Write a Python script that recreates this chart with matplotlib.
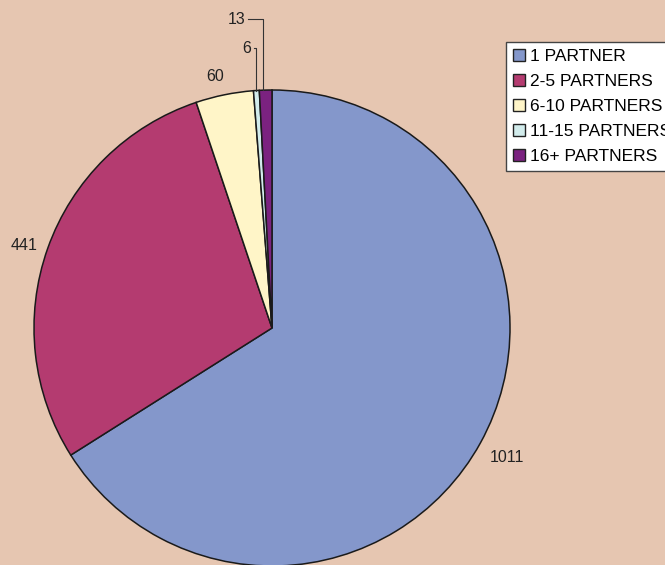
import numpy as np
import matplotlib
matplotlib.use('Agg')
import matplotlib.pyplot as plt

# Данные диаграммы
categories = ['1 PARTNER', '2-5 PARTNERS', '6-10 PARTNERS', '11-15 PARTNERS', '16+ PARTNERS']
values = [1011, 441, 60, 6, 13]
colors = ['#8497CB', '#B43B70', '#FFF5C8', '#D2ECEC', '#7B2280']
bg = '#E6C6B1'

plt.rcParams['font.family'] = ['Liberation Sans', 'DejaVu Sans']

fig = plt.figure(figsize=(6.65, 5.65), dpi=100, facecolor=bg)
# оси под круг: центр (272, 328), радиус 238 px
ax = fig.add_axes([34 / 665, (565 - 328 - 238) / 565, 476 / 665, 476 / 565])
ax.set_facecolor(bg)
ax.axis('off')

wedges, _ = ax.pie(values, colors=colors, startangle=90, counterclock=False,
                   radius=1, wedgeprops=dict(edgecolor='#1a1a1a', linewidth=1.1))
for w in wedges:
    w.set_clip_on(False)
ax.set_xlim(-1, 1)
ax.set_ylim(-1, 1)
ax.set_aspect('equal')

# Подписи
total = sum(values)
start = 90.0
mids = []
for v in values:
    ang = start - v / total * 360
    mids.append(np.deg2rad((start + ang) / 2))
    start = ang

dist = [1.125, 1.10, 1.085]
for i in range(3):
    x = dist[i] * np.cos(mids[i] + (0.02 if i else 0))
    y = dist[i] * np.sin(mids[i] + (0.02 if i else 0))
    ax.text(x, y, str(values[i]), ha='center', va='center', fontsize=11.5, color='#222222')

# Подписи с выносками для маленьких секторов
lead = {3: (1.175, -0.075), 4: (1.298, -0.10)}
for i, (ly, lx) in lead.items():
    ex = np.cos(mids[i])
    ey = np.sin(mids[i])
    if i == 4:
        ex = ex - 0.012
    ax.plot([lx, ex, ex], [ly, ly, ey], color='#333333', lw=0.8, clip_on=False)
    ax.text(lx - 0.012, ly, str(values[i]), ha='right', va='center', fontsize=11.5, color='#222222')

# легенда (в оригинале обрезана правым краем)
leg = fig.legend(wedges, categories, loc='upper left',
                 bbox_to_anchor=(506 / 665, 1 - 42 / 565), fontsize=12.5,
                 frameon=True, fancybox=False, framealpha=1, facecolor='white',
                 handlelength=0.69, handleheight=0.69,
                 handletextpad=0.25, labelspacing=0.56, borderpad=0.42, borderaxespad=0)
leg.get_frame().set_edgecolor('#444444')
leg.get_frame().set_linewidth(1.0)
for h in leg.legend_handles:
    h.set_edgecolor('#222222')
    h.set_linewidth(1.0)

fig.savefig('out.png', dpi=100, facecolor=bg)
